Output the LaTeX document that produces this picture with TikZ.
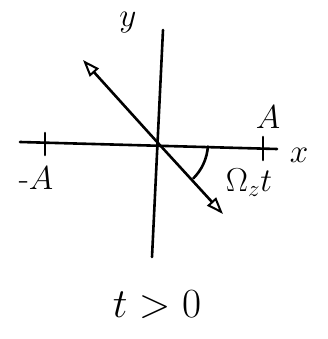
\documentclass[tikz,border=0pt]{standalone}
\usepackage{graphicx}
\usetikzlibrary{arrows.meta}
\newcommand{\bigtxt}[2]{\scalebox{#1}{\huge #2}}
\begin{document}
\begin{tikzpicture}[x=1pt,y=-1pt,
  stroke/.style={line width=2.6pt,line cap=round},
  vec/.style={stroke,-{Triangle[open,length=17pt,width=12pt,line width=2pt]}},
  lbl/.style={inner sep=0pt}]
\useasboundingbox (0,0) rectangle (328,339);
\coordinate (O) at (158,143);
\coordinate (xl) at (20,142);
\coordinate (xr) at (277,149);
\coordinate (yt) at (163,30);
\coordinate (yb) at (152,257);
\coordinate (tl1) at (45,133);
\coordinate (tl2) at (45,155);
\coordinate (tr1) at (263,137);
\coordinate (tr2) at (263,160);
\coordinate (p) at (83,60);
\coordinate (q) at (223,214);
\draw[stroke] (xl) -- (xr);
\draw[stroke] (yt) -- (yb);
\draw[stroke] (tl1) -- (tl2);
\draw[stroke] (tr1) -- (tr2);
\draw[vec] (O) -- (p);
\draw[vec] (O) -- (q);
\draw[stroke] (O) ++(4:50) arc[start angle=4,end angle=45,radius=50];
\node[lbl] (ylab) at (128,23) {\bigtxt{1.6}{$y$}};
\node[lbl] (xlab) at (299,155) {\bigtxt{1.6}{$x$}};
\node[lbl] (Al) at (36,178) {\bigtxt{1.6}{-$A$}};
\node[lbl] (Ar) at (268,117) {\bigtxt{1.6}{$A$}};
\node[lbl] (om) at (249,183) {\bigtxt{1.6}{$\Omega_z t$}};
\node[lbl] (cond) at (157,305) {\bigtxt{2.0}{$t>0$}};
\end{tikzpicture}
\end{document}
